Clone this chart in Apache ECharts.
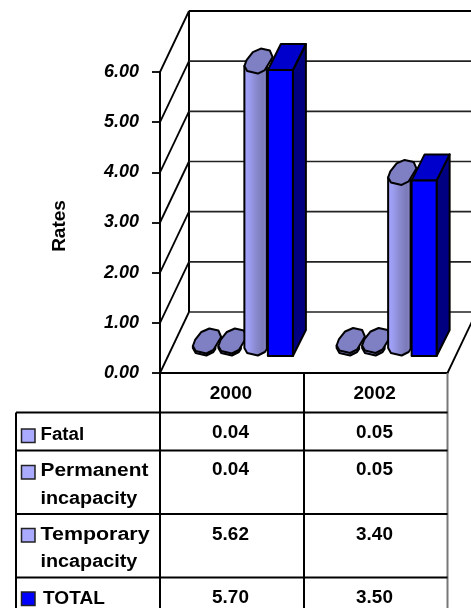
<!DOCTYPE html>
<html>
<head>
<meta charset="utf-8">
<style>html,body{margin:0;padding:0;background:#fff}#chart{width:471px;height:608px}</style>
<script src="https://cdn.jsdelivr.net/npm/echarts@6/dist/echarts.min.js"></script>
</head>
<body>
<div id="chart"></div>
<script>
var years = ['2000', '2002'];
var yTicks = [0, 1, 2, 3, 4, 5, 6];
var fatal = [0.04, 0.05];
var permanent = [0.04, 0.05];
var temporary = [5.62, 3.40];
var total = [5.70, 3.50];

var FONT = 'Liberation Sans';
// depth of the 3d box, in pixels
var DEPTH_X = 29, DEPTH_Y = 61;
// bars stand this far behind the front edge of the floor
var BASE_Y = 17;

// sheared octagon that makes the cylinder tops, relative to its front left corner
var OCT = [[0.5,-8],[3.3,-3],[14,-0.5],[21,-4],[28.8,-17],[26,-23.5],[17,-25.5],[9,-22],[2.7,-14]];

function octagon(x, y) {
  return OCT.map(function (p) { return [x + p[0], y + p[1]]; });
}

function poly(points, fill, lw) {
  return {
    type: 'polygon',
    shape: { points: points },
    style: { fill: fill, stroke: '#000', lineWidth: lw || 2, lineJoin: 'round' }
  };
}

function line(x1, y1, x2, y2, w, color) {
  return {
    type: 'line',
    shape: { x1: x1, y1: y1, x2: x2, y2: y2 },
    style: { stroke: color || '#000', lineWidth: w || 1.5 }
  };
}

var cylinderFill = {
  type: 'linear', x: 0, y: 0, x2: 1, y2: 0,
  colorStops: [
    { offset: 0, color: '#a4a4ff' }, { offset: 0.25, color: '#9c9cf0' },
    { offset: 0.5, color: '#8a8ad0' }, { offset: 0.8, color: '#7a7ab8' },
    { offset: 0.9, color: '#8484c4' }, { offset: 1, color: '#70709c' }
  ]
};

function renderCylinder(dx) {
  return function (params, api) {
    var i = api.value(0), v = api.value(1);
    var base = api.coord([i, 0]);
    var top = api.coord([i, v]);
    var x = base[0] + dx;
    var by = base[1] - BASE_Y, ty = top[1] - BASE_Y;
    // body: left side, the front part of the base, then right side
    var body = [[x + 0.5, ty - 8], [x + 0.5, by - 8], [x + 3.3, by - 3], [x + 14, by - 0.5], [x + 21, by - 4], [x + 23, by - 7], [x + 23, ty - 7]];
    return {
      type: 'group',
      children: [poly(body, cylinderFill), poly(octagon(x, ty), '#7f7fc4')]
    };
  };
}

function renderBox(dx) {
  var w = 25, bx = 13, by = 26;
  return function (params, api) {
    var i = api.value(0), v = api.value(1);
    var base = api.coord([i, 0]);
    var top = api.coord([i, v]);
    var x = base[0] + dx;
    var b = base[1] - BASE_Y, t = top[1] - BASE_Y;
    return {
      type: 'group',
      children: [
        poly([[x + w, t], [x + w + bx, t - by], [x + w + bx, b - by], [x + w, b]], '#000080'),
        poly([[x, t], [x + bx, t - by], [x + w + bx, t - by], [x + w, t]], '#0000cc'),
        poly([[x, t], [x + w, t], [x + w, b], [x, b]], '#0000ff')
      ]
    };
  };
}

// back wall gridlines, side wall diagonals and the floor
function renderWalls(params, api) {
  var v = api.value(1);
  var p = api.coord([0, v]);
  var cs = params.coordSys;
  var left = cs.x, right = cs.x + cs.width;
  var y = p[1];
  var kids = [
    line(left, y, left + DEPTH_X, y - DEPTH_Y, 1.8),
    line(left + DEPTH_X, y - DEPTH_Y, right + DEPTH_X, y - DEPTH_Y, v === 6 ? 2 : 1.6, v === 6 ? '#000' : '#222')
  ];
  if (v === 0) {
    kids.push(line(left + DEPTH_X, cs.y - DEPTH_Y, left + DEPTH_X, y - DEPTH_Y, 2));
    kids.push(line(right, y, right + DEPTH_X, y - DEPTH_Y, 1.8));
  }
  return { type: 'group', children: kids };
}

function pairs(arr) {
  return arr.map(function (v, i) { return [i, v]; });
}

// data table under the plot
var tableLeft = 16, tableX0 = 160, tableX1 = 304, tableX2 = 447.5, tableBottom = 608;
var rowLines = [412.5, 450.5, 514, 577.5];
var rows = [
  { names: ['Fatal'], stretch: [1.04], values: fatal, color: '#aaaaff', y: 433.5, ny: [435.5], sy: 429 },
  { names: ['Permanent', 'incapacity'], stretch: [1.16, 1.1], values: permanent, color: '#aaaaff', y: 470.5, ny: [471, 499], sy: 465.5 },
  { names: ['Temporary', 'incapacity'], stretch: [1.19, 1.1], values: temporary, color: '#aaaaff', y: 535, ny: [535, 562], sy: 528.5 },
  { names: ['TOTAL'], stretch: [1.06], values: total, color: '#0000ff', y: 598, ny: [599], sy: 592 }
];

function tableGraphics() {
  var g = [];
  function addLine(x1, y1, x2, y2, color) {
    var l = line(x1, y1, x2, y2, 2, color);
    l.z = 20; l.silent = true;
    g.push(l);
  }
  addLine(tableLeft, rowLines[0], tableLeft, tableBottom);
  addLine(tableX0, 373, tableX0, tableBottom);
  addLine(tableX1, 373, tableX1, tableBottom);
  addLine(tableX2, 373, tableX2, tableBottom, '#777');
  rowLines.forEach(function (y) { addLine(tableLeft, y, tableX2, y); });
  rows.forEach(function (r) {
    g.push({
      type: 'rect', z: 20,
      shape: { x: 21.5, y: r.sy, width: 13.5, height: 13.5 },
      style: { fill: r.color, stroke: '#222', lineWidth: 1.5 }
    });
    r.names.forEach(function (name, k) {
      g.push({
        type: 'text', z: 20,
        x: r.names[0] === 'TOTAL' ? 43 : 40.5, y: r.ny[k], scaleX: r.stretch[k], scaleY: 1,
        style: { text: name, font: 'bold 18px "Liberation Sans"', fill: '#000', align: 'left', verticalAlign: 'middle' }
      });
    });
    r.values.forEach(function (v, k) {
      g.push({
        type: 'text', z: 20,
        x: k === 0 ? 230.5 : 374.5, y: r.y, scaleX: 1.05, scaleY: 1,
        style: { text: v.toFixed(2), font: 'bold 18px "Liberation Sans"', fill: '#000', align: 'center', verticalAlign: 'middle' }
      });
    });
  });
  return g;
}

var chart = echarts.init(document.getElementById('chart'), null, { renderer: 'canvas' });
chart.setOption({
  animation: false,
  backgroundColor: '#fff',
  grid: { left: 160, right: 23.5, top: 72, bottom: 235 },
  xAxis: {
    type: 'category',
    data: years,
    axisLine: { lineStyle: { color: '#000', width: 2 } },
    axisTick: { show: false },
    axisLabel: { color: '#000', fontFamily: FONT, fontWeight: 'bold', fontSize: 19, margin: 11, padding: [0, 2, 0, 0] }
  },
  yAxis: {
    type: 'value',
    min: 0,
    max: 6,
    interval: 1,
    name: 'Rates',
    nameLocation: 'middle',
    nameGap: 91,
    nameRotate: 90,
    nameTextStyle: { color: '#000', fontFamily: FONT, fontWeight: 'bold', fontSize: 19, padding: [0, 7, 0, 0] },
    axisLine: { show: true, lineStyle: { color: '#000', width: 2 } },
    axisTick: { show: true, length: 8, lineStyle: { color: '#000', width: 1.8 } },
    splitLine: { show: false },
    axisLabel: {
      color: '#000', fontFamily: FONT, fontWeight: 'bold', fontStyle: 'italic', fontSize: 18, margin: 21,
      formatter: function (v) { return v.toFixed(2); }
    }
  },
  series: [
    { type: 'custom', name: 'grid', z: 1, silent: true, renderItem: renderWalls, data: yTicks.map(function (v) { return [0, v]; }) },
    { type: 'custom', name: 'Fatal', z: 3, silent: true, renderItem: renderCylinder(-39.5), data: pairs(fatal) },
    { type: 'custom', name: 'Permanent incapacity', z: 2, silent: true, renderItem: renderCylinder(-14), data: pairs(permanent) },
    { type: 'custom', name: 'Temporary incapacity', z: 4, silent: true, renderItem: renderCylinder(12), data: pairs(temporary) },
    { type: 'custom', name: 'TOTAL', z: 5, silent: true, renderItem: renderBox(36), data: pairs(total) }
  ],
  graphic: tableGraphics()
});
</script>
</body>
</html>
